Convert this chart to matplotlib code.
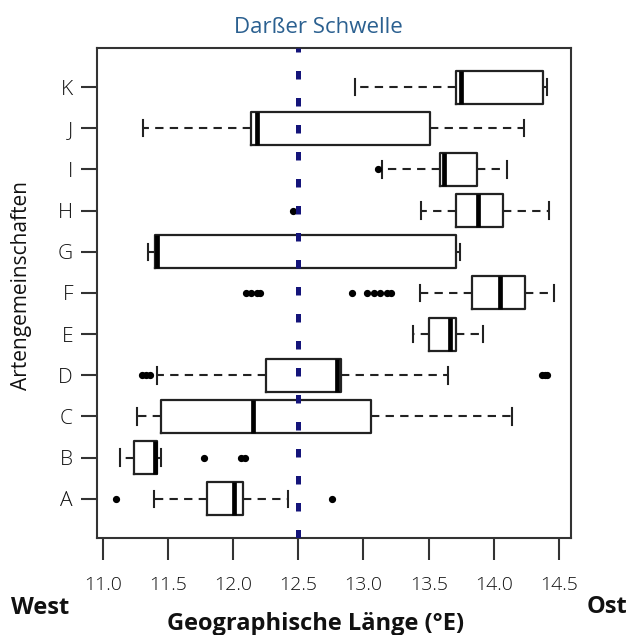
#! /usr/bin/env python3
"""
Artengemeinschaften entlang der geographischen Laenge (Boxplot)
"""
import matplotlib
matplotlib.use("Agg")
import matplotlib.pyplot as plt

# --------------------------------------------------------------------------
# Data
labels = ["A", "B", "C", "D", "E", "F", "G", "H", "I", "J", "K"]
whislo = [11.39, 11.13, 11.26, 11.42, 13.38, 13.43, 11.35, 13.44, 13.14, 11.31, 12.935]
q1 = [11.80, 11.24, 11.45, 12.25, 13.50, 13.83, 11.40, 13.71, 13.59, 12.14, 13.71]
med = [12.01, 11.40, 12.15, 12.80, 13.66, 14.05, 11.42, 13.88, 13.62, 12.18, 13.75]
q3 = [12.08, 11.42, 13.06, 12.83, 13.71, 14.24, 13.71, 14.07, 13.87, 13.51, 14.38]
whishi = [12.42, 11.45, 14.14, 13.65, 13.92, 14.46, 13.74, 14.42, 14.10, 14.23, 14.41]
fliers = [
    [11.10, 12.76],
    [11.78, 12.06, 12.09],
    [],
    [11.30, 11.33, 11.36, 14.37, 14.39, 14.41],
    [],
    [12.10, 12.14, 12.18, 12.21, 12.91, 13.03, 13.08, 13.13, 13.18, 13.21],
    [],
    [12.46],
    [13.11],
    [],
    [],
]
x_ticks = [11.0, 11.5, 12.0, 12.5, 13.0, 13.5, 14.0, 14.5]
threshold = 12.5  # Darsser Schwelle

title = "Darßer Schwelle"
x_label = "Geographische Länge (°E)"
y_label = "Artengemeinschaften"

# --------------------------------------------------------------------------
plt.rcParams["font.family"] = ["Open Sans", "DejaVu Sans"]
frame_col = "#333333"

fig = plt.figure(figsize=(6.31, 6.35), dpi=100)
ax = fig.add_axes([0.1542, 0.1535, 0.7515, 0.7704])

stats = []
for i, lab in enumerate(labels):
    stats.append(dict(label=lab, whislo=whislo[i], q1=q1[i], med=med[i],
                      q3=q3[i], whishi=whishi[i], fliers=fliers[i]))

positions = list(range(1, len(labels) + 1))
ax.bxp(
    stats,
    positions=positions,
    orientation="horizontal",
    widths=0.8,
    capwidths=0.4,
    showfliers=True,
    boxprops=dict(color="#222222", lw=1.6),
    medianprops=dict(color="black", lw=3.4, solid_capstyle="butt"),
    whiskerprops=dict(color="#222222", lw=1.5, linestyle=(0, (4, 3))),
    capprops=dict(color="#222222", lw=1.5),
    flierprops=dict(marker="o", markerfacecolor="black",
                    markeredgecolor="black", markersize=4.2),
)

# the threshold line, drawn as a row of square dots
ax.axvline(threshold, color="#14147a", lw=3.6, dashes=(1.7, 3.7), zorder=5)

ax.set_xlim(10.959, 14.595)
ax.set_ylim(0.06, 11.94)
ax.set_xticks(x_ticks)
ax.set_xticklabels(["%.1f" % t for t in x_ticks])
ax.set_yticks(positions)
ax.set_yticklabels(labels)

for sp in ax.spines.values():
    sp.set_color(frame_col)
    sp.set_linewidth(1.5)

ax.tick_params(axis="x", length=16, width=1.5, color=frame_col,
               labelsize=14, pad=12, labelcolor="#111111")
ax.tick_params(axis="y", length=11.5, width=1.5, color=frame_col,
               labelsize=15, pad=6, labelcolor="#111111")
for t in ax.get_xticklabels() + ax.get_yticklabels():
    t.set_fontweight("light")

# texts around the plot
fig.text(318 / 631, 1 - 32.7 / 635, title, ha="center", va="baseline",
         fontsize=16, color="#2b6090")
fig.text(22 / 631, 1 - 285 / 635, y_label, rotation=90, ha="center",
         va="center", fontsize=15, color="#111111")
fig.text(316 / 631, 1 - 630 / 635, x_label, ha="center", va="baseline",
         fontsize=17, fontweight="bold", color="#111111")
fig.text(40 / 631, 1 - 608 / 635, "West", ha="center", va="center",
         fontsize=17, fontweight="bold", color="#111111")
fig.text(607 / 631, 1 - 607 / 635, "Ost", ha="center", va="center",
         fontsize=17, fontweight="bold", color="#111111")

fig.savefig("out.png", dpi=100)
